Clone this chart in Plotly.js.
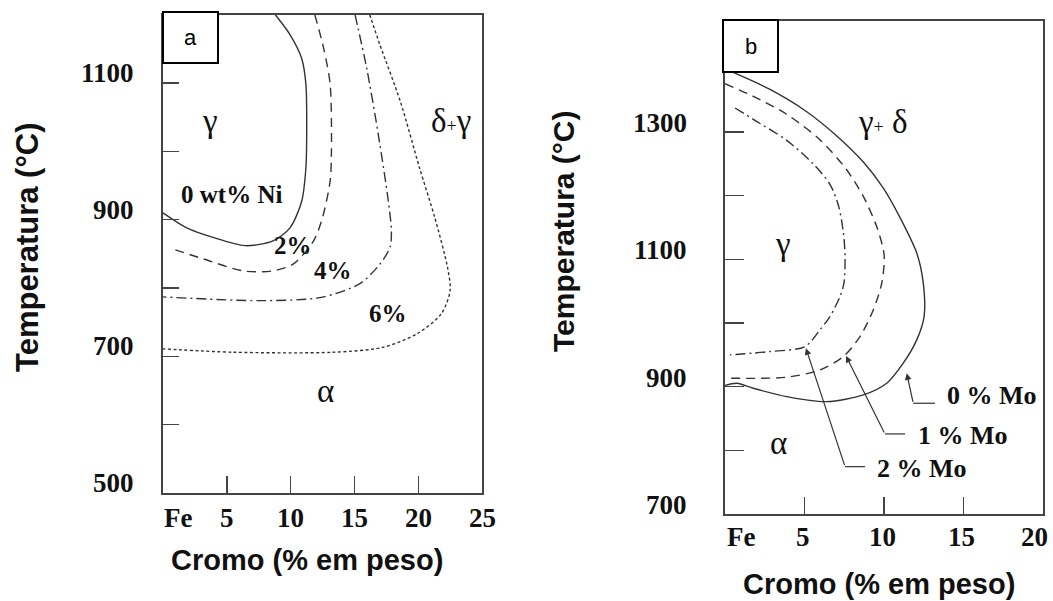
<!DOCTYPE html>
<html>
<head>
<meta charset="utf-8">
<script src="https://cdn.plot.ly/plotly-3.0.1.min.js"></script>
<style>html,body{margin:0;padding:0;background:#fff;}#chart{width:1053px;height:601px;}</style>
</head>
<body>
<div id="chart"></div>
<script>
// ---------- Panel a : Fe-Cr-Ni (x = Cr wt%, T in °C) ----------
const ni0_x = [8.8, 9.95, 10.87, 11.2, 11.26, 11.2, 10.87, 9.95, 8.62, 6.43, 3.92, 1.86, 0];
const ni0_T = [1200, 1171, 1136, 1098, 1025, 976, 927, 888, 869, 862, 874, 888, 910];
const ni2_x = [11.9, 12.6, 13.1, 13.2, 13.1, 12.5, 11.8, 10.2, 8.6, 6.3, 3.1, 0.76];
const ni2_T = [1200, 1150, 1098, 1000, 957, 903, 869, 835, 825, 825, 843, 857];
const ni4_x = [15.05, 15.96, 16.87, 17.66, 17.9, 17.8, 17.0, 15.4, 12.3, 7.6, 0];
const ni4_T = [1200, 1122, 1025, 927, 884, 860, 835, 806, 786, 781.5, 787];
const ni6_x = [16.2, 17.0, 18.6, 20.1, 21.3, 22.3, 22.5, 21.8, 19.9, 17.2, 13.3, 5.5, 0];
const ni6_T = [1200, 1156, 1073, 976, 903, 830, 796, 762, 733, 713, 706, 706, 711];
const xTickValsA = [0, 5, 10, 15, 20, 25];
const xTickTextA = ['Fe', '5', '10', '15', '20', '25'];
const yTickValsA = [500, 700, 900, 1100];
const yTickTextA = ['500', '700', '900', '1100'];
const yMinorA = [600, 700, 800, 900, 1000, 1100];
const xMinorA = [5, 10, 15, 20];

// ---------- Panel b : Fe-Cr-Mo ----------
const mo0_x = [0.3, 2.83, 5.14, 7.03, 8.7, 9.96, 11.0, 12.06, 12.47, 12.52, 12.06, 11.21, 10.17, 8.7, 6.4, 3.88, 1.78, 0.74, 0];
const mo0_T = [1396, 1367, 1332, 1294, 1253, 1212, 1166, 1109.9, 1062.7, 1010.2, 973.6, 937, 905.5, 887.1, 876.6, 884.4, 897.6, 905.5, 902];
const mo1_x = [0, 1.78, 3.88, 5.97, 7.65, 8.7, 9.54, 9.96, 10.02, 9.86, 9.33, 8.49, 7.44, 5.97, 3.88, 0.1];
const mo1_T = [1376, 1356.1, 1328, 1288, 1240.9, 1198.9, 1151.7, 1115.1, 1100, 1062.7, 1020.8, 978.8, 947.3, 926.4, 914.9, 913.4];
const mo2_x = [0.63, 1.78, 3.88, 5.55, 6.6, 7.13, 7.44, 7.55, 7.48, 7.23, 6.6, 5.97, 5.03, 2.83, 0.31];
const mo2_T = [1337.9, 1320, 1287, 1250, 1218, 1185, 1143, 1104.6, 1062.7, 1041.7, 1010.2, 989.3, 963, 955.2, 950];
const xTickValsB = [0, 5, 10, 15, 20];
const xTickTextB = ['Fe', '5', '10', '15', '20'];
const yTickValsB = [700, 900, 1100, 1300];
const yTickTextB = ['700', '900', '1100', '1300'];
const yMinorB = [800, 900, 1000, 1100, 1200, 1300];
const xMinorB = [5, 10, 15];

// Mo labels with leader lines: label position, elbow, arrow tip
const moLabels = ['0 % Mo', '1 % Mo', '2 % Mo'];
const moLabel_x = [16.8, 14.94, 12.42];
const moLabel_T = [885.5, 822.6, 771.9];
const moElbowStart_x = [13.2, 11.32, 8.81];
const moElbowStart_T = [874, 825.8, 774.4];
const moElbow_x = [11.84, 10.06, 7.55];
const moElbow_T = [874, 825.8, 774.4];
const moTip_x = [11.43, 7.61, 5.09];
const moTip_T = [921, 948.4, 960.5];

const INK = '#333333';
const SERIF = 'Liberation Serif, Times New Roman, serif';
const SANS = 'Liberation Sans, Arial, sans-serif';

function curve(x, y, dash, xa, ya) {
  return {x: x, y: y, type: 'scatter', mode: 'lines', xaxis: xa, yaxis: ya,
    line: {color: INK, width: 1.4, dash: dash, shape: 'spline', smoothing: 0.8},
    hoverinfo: 'skip', showlegend: false};
}

const traces = [
  curve(ni0_x, ni0_T, 'solid', 'x', 'y'),
  curve(ni2_x, ni2_T, '9px,6px', 'x', 'y'),
  curve(ni4_x, ni4_T, '10px,4px,2px,4px', 'x', 'y'),
  curve(ni6_x, ni6_T, '3px,2.5px', 'x', 'y'),
  curve(mo0_x, mo0_T, 'solid', 'x2', 'y2'),
  curve(mo1_x, mo1_T, '9px,6px', 'x2', 'y2'),
  curve(mo2_x, mo2_T, '10px,4px,2px,4px', 'x2', 'y2')
];
for (let i = 0; i < moLabels.length; i++) {
  traces.push({x: [moElbowStart_x[i], moElbow_x[i]], y: [moElbowStart_T[i], moElbow_T[i]],
    type: 'scatter', mode: 'lines', xaxis: 'x2', yaxis: 'y2',
    line: {color: INK, width: 1.2}, hoverinfo: 'skip', showlegend: false});
}

const annotations = [];
function txt(x, y, xref, yref, text, size, family, extra) {
  const a = Object.assign({x: x, y: y, xref: xref, yref: yref, text: text, showarrow: false,
    font: {size: size, family: family, color: '#111'}, xanchor: 'center', yanchor: 'middle'}, extra || {});
  annotations.push(a);
}
// tick labels panel a
xTickValsA.forEach((v, i) => txt(v, 0, 'x', 'y domain', '<b>' + xTickTextA[i] + '</b>', 27, SERIF,
  {yanchor: 'middle', yshift: -25, xanchor: i === 0 ? 'left' : 'center', xshift: i === 0 ? -1 : 0}));
yTickValsA.forEach((v, i) => txt(0, v, 'x domain', 'y', '<b>' + yTickTextA[i] + '</b>', 27, SERIF,
  {xanchor: 'right', xshift: -27, yshift: 10}));
// tick labels panel b
xTickValsB.forEach((v, i) => txt(v, 0, 'x2', 'y2 domain', '<b>' + xTickTextB[i] + '</b>', 27, SERIF,
  {yshift: -23, xanchor: i === 0 ? 'left' : 'center', xshift: i === 0 ? 0 : (i === 4 ? -9 : -2)}));
yTickValsB.forEach((v, i) => txt(0, v, 'x2 domain', 'y2', '<b>' + yTickTextB[i] + '</b>', 27, SERIF,
  {xanchor: 'right', xshift: -36, yshift: 9}));

// region labels panel a
txt(3.7, 1044, 'x', 'y', 'γ', 33, SERIF);
txt(22.6, 1044, 'x', 'y', 'δ<span style="font-size:18px">+</span>γ', 33, SERIF);
txt(12.7, 650, 'x', 'y', 'α', 33, SERIF);
txt(5.38, 937, 'x', 'y', '<b>0 wt% Ni</b>', 25, SERIF);
txt(10.2, 862, 'x', 'y', '<b>2%</b>', 25, SERIF);
txt(13.3, 825, 'x', 'y', '<b>4%</b>', 25, SERIF);
txt(17.6, 762, 'x', 'y', '<b>6%</b>', 25, SERIF);
// region labels panel b
txt(9.94, 1316, 'x2', 'y2', 'γ<span style="font-size:18px">+</span> δ', 33, SERIF);
txt(3.67, 1124, 'x2', 'y2', 'γ', 33, SERIF);
txt(3.35, 811, 'x2', 'y2', 'α', 33, SERIF);
for (let i = 0; i < moLabels.length; i++) {
  txt(moLabel_x[i], moLabel_T[i], 'x2', 'y2', '<b>' + moLabels[i] + '</b>', 26, SERIF);
  annotations.push({x: moTip_x[i], y: moTip_T[i], xref: 'x2', yref: 'y2',
    ax: moElbow_x[i], ay: moElbow_T[i], axref: 'x2', ayref: 'y2', text: '', showarrow: true,
    arrowhead: 2, arrowsize: 1.1, arrowwidth: 1.2, arrowcolor: INK, standoff: 0});
}
// axis titles
txt(27 / 1053, 1 - 247 / 601, 'paper', 'paper', '<b>Temperatura (°C)</b>', 31, SANS, {textangle: -90});
txt(307 / 1053, 1 - 560 / 601, 'paper', 'paper', '<b>Cromo (% em peso)</b>', 29, SANS);
txt(563 / 1053, 1 - 232 / 601, 'paper', 'paper', '<b>Temperatura (°C)</b>', 30, SANS, {textangle: -90});
txt(879 / 1053, 1 - 584 / 601, 'paper', 'paper', '<b>Cromo (% em peso)</b>', 29, SANS);
// panel letters
txt(190.5 / 1053, 1 - 37.5 / 601, 'paper', 'paper', 'a', 22, SANS, {font: {size: 22, family: SANS, color: '#000'}});
txt(750.5 / 1053, 1 - 46 / 601, 'paper', 'paper', 'b', 22, SANS, {font: {size: 22, family: SANS, color: '#000'}});

const shapes = [
  {type: 'rect', xref: 'paper', yref: 'paper', x0: 163 / 1053, x1: 218 / 1053, y0: 1 - 63 / 601, y1: 1 - 12 / 601,
    line: {color: '#000', width: 2}, fillcolor: '#fff', layer: 'above'},
  {type: 'rect', xref: 'paper', yref: 'paper', x0: 723 / 1053, x1: 778 / 1053, y0: 1 - 72 / 601, y1: 1 - 20 / 601,
    line: {color: '#000', width: 2}, fillcolor: '#fff', layer: 'above'}
];

const axBase = {showline: true, linecolor: '#444', linewidth: 1.6, mirror: true, ticks: 'inside',
  tickcolor: '#444', tickwidth: 1.4, showticklabels: false, showgrid: false, zeroline: false,
  fixedrange: true, tickmode: 'array'};

const layout = {
  width: 1053, height: 601, margin: {l: 0, r: 0, t: 0, b: 0},
  paper_bgcolor: '#fff', plot_bgcolor: '#fff', showlegend: false,
  xaxis: Object.assign({}, axBase, {domain: [163 / 1053, 482 / 1053], range: [0, 25], tickvals: xMinorA, ticklen: 17, anchor: 'y'}),
  yaxis: Object.assign({}, axBase, {domain: [1 - 493 / 601, 1 - 14.7 / 601], range: [500, 1200], tickvals: yMinorA, ticklen: 16, anchor: 'x'}),
  xaxis2: Object.assign({}, axBase, {domain: [725 / 1053, 1043 / 1053], range: [0, 20], tickvals: xMinorB, ticklen: 17, anchor: 'y2'}),
  yaxis2: Object.assign({}, axBase, {domain: [1 - 514 / 601, 1 - 20.7 / 601], range: [700, 1475], tickvals: yMinorB, ticklen: 19, anchor: 'x2'}),
  annotations: annotations, shapes: shapes
};

Plotly.newPlot('chart', traces, layout, {staticPlot: true, displayModeBar: false});
</script>
</body>
</html>
